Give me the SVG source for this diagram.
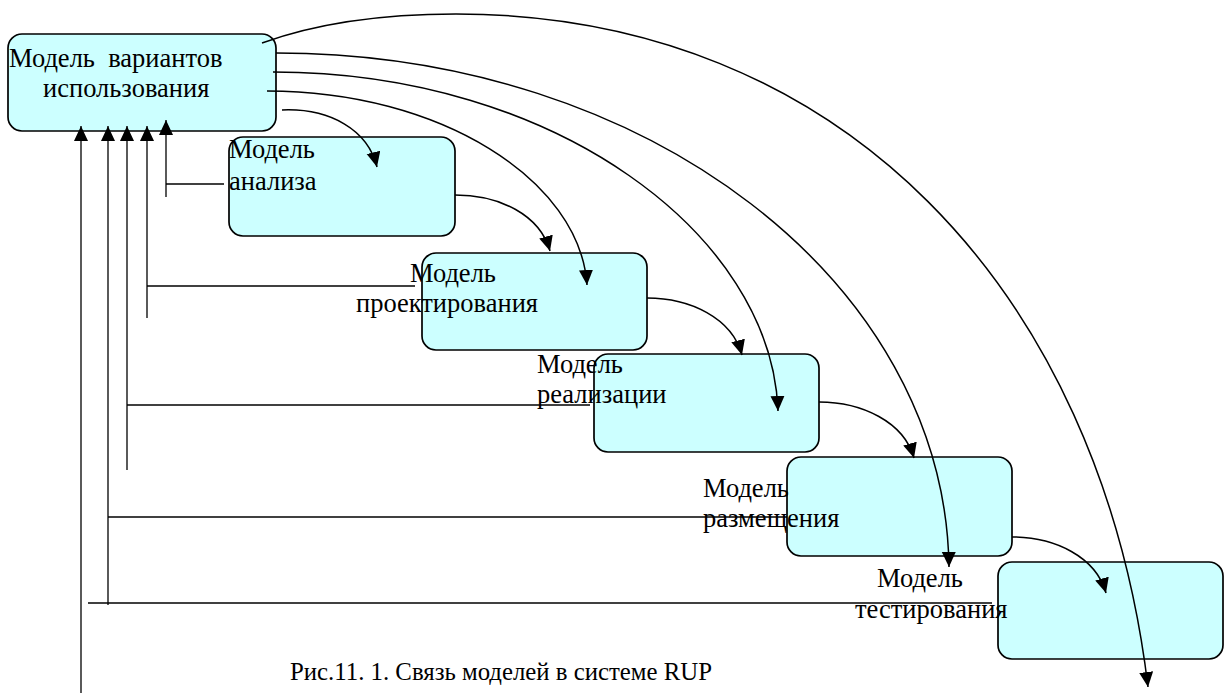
<svg xmlns="http://www.w3.org/2000/svg" width="1227" height="695" viewBox="0 0 1227 695">
<style>
.box{fill:#CCFFFF;stroke:#000;stroke-width:1.7}
.lbl{font-family:"Liberation Serif","Times New Roman",serif;font-size:26.5px;fill:#000}
.cap{font-family:"Liberation Serif","Times New Roman",serif;font-size:24.8px;fill:#000}
.c{fill:none;stroke:#000;stroke-width:1.5}
.l{fill:none;stroke:#000;stroke-width:1.3}
</style>
<defs>
<marker id="ah" markerUnits="userSpaceOnUse" markerWidth="16" markerHeight="15" refX="15" refY="7" orient="auto">
<path d="M0,0 L15,7 L0,14 z" fill="#000"/>
</marker>
</defs>
<rect width="1227" height="695" fill="#fff"/>
<g id="node-usecase">
<rect class="box" x="8" y="34" width="268" height="97" rx="14"/>
<text class="lbl" x="9" y="67" xml:space="preserve">Модель  вариантов</text>
<text class="lbl" x="43" y="97">использования</text>
</g>
<g id="node-analysis">
<rect class="box" x="229" y="137" width="226" height="99" rx="14"/>
<text class="lbl" x="229" y="158">Модель</text>
<text class="lbl" x="229" y="190">анализа</text>
</g>
<g id="node-design">
<rect class="box" x="422" y="253" width="225" height="97" rx="14"/>
<text class="lbl" x="410" y="282">Модель</text>
<text class="lbl" x="356" y="312">проектирования</text>
</g>
<g id="node-impl">
<rect class="box" x="594" y="354" width="225" height="98" rx="14"/>
<text class="lbl" x="537" y="373">Модель</text>
<text class="lbl" x="537" y="403">реализации</text>
</g>
<g id="node-deploy">
<rect class="box" x="787" y="457" width="225" height="99" rx="14"/>
<text class="lbl" x="703" y="497">Модель</text>
<text class="lbl" x="703" y="527">размещения</text>
</g>
<g id="node-test">
<rect class="box" x="998" y="562" width="225" height="97" rx="14"/>
<text class="lbl" x="877" y="587">Модель</text>
<text class="lbl" x="855" y="618">тестирования</text>
</g>
<g id="connectors">
<path class="c" d="M262,43 C320,22 390,14 456,14 C840,14 1100,290 1148,687" marker-end="url(#ah)"/>
<path class="c" d="M276,53 C648,53 945,283 949,567" marker-end="url(#ah)"/>
<path class="c" d="M273,72 C555,72 772,235 778,411" marker-end="url(#ah)"/>
<path class="c" d="M267,91 C440,91 580,180 587,285" marker-end="url(#ah)"/>
<path class="c" d="M282,110 C330,108 368,130 377,167" marker-end="url(#ah)"/>
<path class="c" d="M455,195 C500,195 540,215 550,251" marker-end="url(#ah)"/>
<path class="c" d="M647,298 C690,298 732,318 742,355" marker-end="url(#ah)"/>
<path class="c" d="M819,402 C862,402 904,422 914,458" marker-end="url(#ah)"/>
<path class="c" d="M1012,537 C1055,537 1096,557 1106,593" marker-end="url(#ah)"/>
<line class="l" x1="81" y1="693" x2="81" y2="126" stroke-width="2" marker-end="url(#ah)"/>
<line class="l" x1="108" y1="605" x2="108" y2="126" marker-end="url(#ah)"/>
<line class="l" x1="127" y1="470" x2="127" y2="126" marker-end="url(#ah)"/>
<line class="l" x1="147" y1="318" x2="147" y2="126" marker-end="url(#ah)"/>
<line class="l" x1="166" y1="197" x2="166" y2="120" marker-end="url(#ah)"/>
<line class="l" x1="166" y1="184" x2="224" y2="184"/>
<line class="l" x1="147" y1="286" x2="415" y2="286"/>
<line class="l" x1="127" y1="405" x2="590" y2="405"/>
<line class="l" x1="108" y1="517" x2="787" y2="517"/>
<line class="l" x1="88" y1="603" x2="992" y2="603"/>
</g>
<text class="cap" x="290" y="680">Рис.11. 1. Связь моделей в системе RUP</text>
</svg>
